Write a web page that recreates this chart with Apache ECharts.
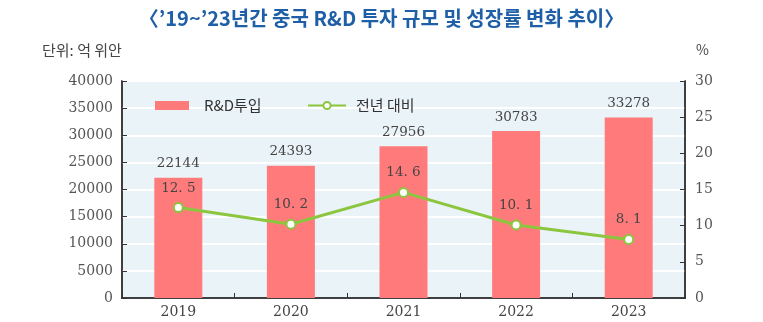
<!DOCTYPE html>
<html><head><meta charset="utf-8">
<script src="https://cdn.jsdelivr.net/npm/echarts@6/dist/echarts.min.js"></script>
<style>html,body{margin:0;padding:0;background:#fff}#c{width:763px;height:322px}</style>
</head><body><div id="c"></div>
<script>
const categories = ['2019','2020','2021','2022','2023'];
const rdInvestment = [22144, 24393, 27956, 30783, 33278];
const yoyGrowth = [12.5, 10.2, 14.6, 10.1, 8.1];
const leftTicks = {min:0, max:40000, interval:5000};
const rightTicks = {min:0, max:30, interval:5};

const serif = '"DejaVu Serif", "Liberation Serif", serif';
const kr = '"Noto Sans CJK KR", sans-serif';
const chart = echarts.init(document.getElementById('c'), null, {renderer:'canvas'});
chart.setOption({
  animation:false,
  backgroundColor:'#fff',
  title:{text:'〈\u201919~\u201923년간 중국 R&D 투자 규모 및 성장률 변화 추이〉', left:'center', top:3,
    textStyle:{color:'#1f5fa8', fontSize:20, fontWeight:'bold', fontFamily:kr}},
  graphic:[
    {type:'text', left:42, top:43, style:{text:'단위: 억 위안', fill:'#444', fontSize:15, fontFamily:kr}},
    {type:'text', left:696, top:43, style:{text:'%', fill:'#444', fontSize:14, fontFamily:kr}}
  ],
  legend:[
    {left:150, top:93, itemWidth:34, itemHeight:9, icon:'rect',
     textStyle:{fontSize:15, color:'#333', fontFamily:kr, padding:[0,0,0,10]},
     data:[{name:'R&D투입'}]},
    {left:302, top:93, itemWidth:38, itemHeight:9,
     textStyle:{fontSize:15, color:'#333', fontFamily:kr, padding:[0,0,0,5]},
     data:[{name:'전년 대비'}]}
  ],
  grid:{left:122, right:78, top:81, bottom:24, show:true, backgroundColor:'#eaf4f8', borderColor:'#333', borderWidth:1.5},
  xAxis:[
    {type:'category', data:categories,
    axisLine:{lineStyle:{color:'#333', width:1.5}},
    axisTick:{show:true, inside:true, length:5, lineStyle:{color:'#333'}},
    axisLabel:{color:'#444', fontSize:14, fontFamily:serif, margin:7}},
    {type:'category', data:categories, position:'top',
    axisLine:{show:true, lineStyle:{color:'#333', width:1.5}},
    axisTick:{show:false}, axisLabel:{show:false}}
  ],
  yAxis:[
    {type:'value', min:leftTicks.min, max:leftTicks.max, interval:leftTicks.interval,
     axisLine:{show:true, lineStyle:{color:'#333', width:1.5}},
     axisTick:{show:true, inside:true, length:5, lineStyle:{color:'#333'}},
     splitLine:{lineStyle:{color:'#ffffff', width:2}},
     axisLabel:{color:'#555', fontSize:14, fontFamily:serif, margin:9, formatter:v=>String(v)}},
    {type:'value', position:'right', min:rightTicks.min, max:rightTicks.max, interval:rightTicks.interval,
     axisLine:{show:true, lineStyle:{color:'#333', width:1.5}},
     axisTick:{show:true, inside:true, length:5, lineStyle:{color:'#333'}},
     splitLine:{show:false},
     axisLabel:{color:'#555', fontSize:14, fontFamily:serif, margin:10, formatter:v=>String(v)}}
  ],
  series:[
    {name:'R&D투입', type:'bar', data:rdInvestment, barWidth:48, yAxisIndex:0,
     itemStyle:{color:'#ff7b7b'},
     label:{show:true, position:'top', distance:7, color:'#444', fontSize:13.5, fontFamily:serif}},
    {name:'전년 대비', type:'line', data:yoyGrowth, yAxisIndex:1,
     lineStyle:{color:'#8cc63f', width:3}, itemStyle:{color:'#ffffff', borderColor:'#8cc63f', borderWidth:2},
     symbol:'circle', symbolSize:9,
     label:{show:true, position:'top', distance:7, color:'#444', fontSize:13.5, fontFamily:serif,
       formatter:p=>String(p.value).replace('.', '. ')}}
  ]
});
</script></body></html>
